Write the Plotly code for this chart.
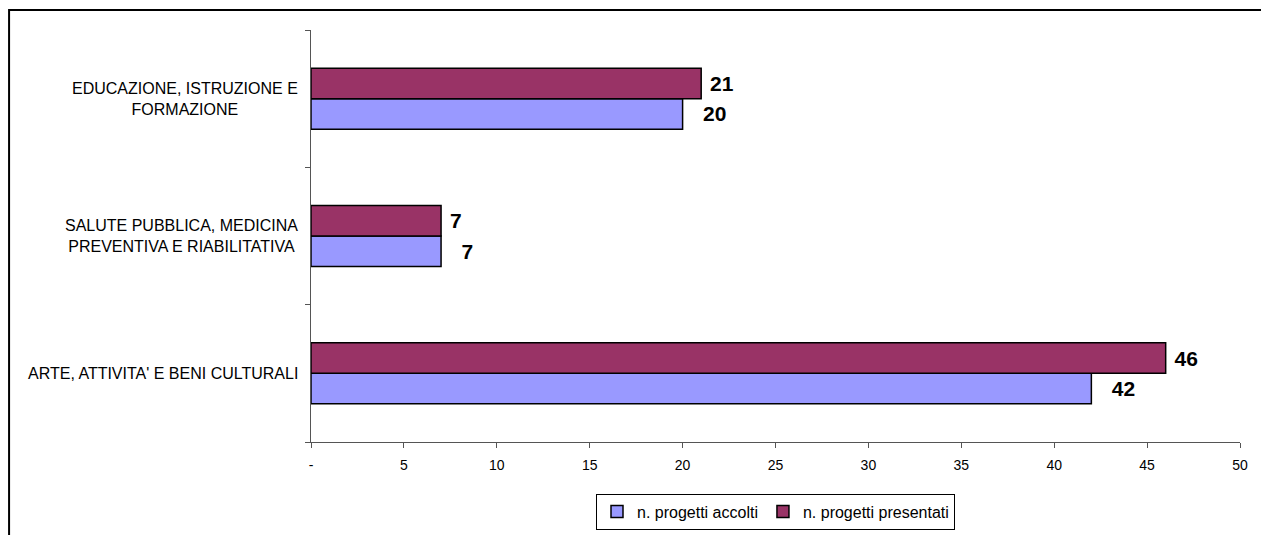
import plotly.graph_objects as go

# categories, bottom to top as in the chart
categories = [
    "ARTE, ATTIVITA' E BENI CULTURALI",
    "SALUTE PUBBLICA, MEDICINA<br>PREVENTIVA E RIABILITATIVA",
    "EDUCAZIONE, ISTRUZIONE E<br>FORMAZIONE",
]
accolti = [42, 7, 20]
presentati = [46, 7, 21]

x_ticks = [0, 5, 10, 15, 20, 25, 30, 35, 40, 45, 50]
x_ticktext = ["-", "5", "10", "15", "20", "25", "30", "35", "40", "45", "50"]

FONT = "Liberation Sans"
NBSP = "\u00a0"

fig = go.Figure()

fig.add_trace(go.Bar(
    y=categories,
    x=accolti,
    orientation="h",
    name="n. progetti accolti",
    marker=dict(color="#9999FF", line=dict(color="black", width=1.5)),
    texttemplate=NBSP * 3 + "%{x}",
    textposition="outside",
    constraintext="none",
    cliponaxis=False,
    textfont=dict(family=FONT, size=21, color="black", weight="bold"),
))
fig.add_trace(go.Bar(
    y=categories,
    x=presentati,
    orientation="h",
    name="n. progetti presentati",
    marker=dict(color="#993366", line=dict(color="black", width=1.5)),
    texttemplate=NBSP + "%{x}",
    textposition="outside",
    constraintext="none",
    cliponaxis=False,
    textfont=dict(family=FONT, size=21, color="black", weight="bold"),
))

# category labels as annotations so multi-line labels are centred
for cat in categories:
    fig.add_annotation(
        x=0, xref="paper", y=cat, yref="y",
        text=cat, showarrow=False,
        xanchor="right", xshift=-11, align="center",
        font=dict(family=FONT, size=16, color="black"),
    )

# outer frame (runs off the right and bottom of the page)
fig.add_shape(
    type="rect", xref="paper", yref="paper",
    x0=-0.325, y0=-0.4, x1=1.2, y1=1.0485,
    line=dict(color="black", width=2),
)

# the page body has an 8px margin, so the figure is 8px smaller than the window
fig.update_layout(
    width=1261, height=527,
    margin=dict(l=303, r=29, t=22, b=93, autoexpand=False),
    paper_bgcolor="white",
    plot_bgcolor="white",
    barmode="group",
    bargap=0.556,
    bargroupgap=0,
    font=dict(family=FONT, color="black"),
    showlegend=True,
    legend=dict(
        orientation="h",
        x=0.5, xanchor="center",
        y=-0.125, yanchor="top",
        bordercolor="black", borderwidth=1,
        font=dict(family=FONT, size=16, color="black"),
        traceorder="normal",
        itemwidth=30,
    ),
    xaxis=dict(
        range=[0, 50],
        tickvals=x_ticks,
        ticktext=x_ticktext,
        ticks="outside", ticklen=5, tickcolor="#555",
        showline=True, linecolor="#555", linewidth=1,
        showgrid=False, zeroline=False,
        tickfont=dict(family=FONT, size=14, color="black"),
        ticklabelstandoff=5,
        automargin=False,
        fixedrange=True,
    ),
    yaxis=dict(
        type="category",
        tickson="boundaries",
        ticks="outside", ticklen=5, tickcolor="#555",
        showline=True, linecolor="#555", linewidth=1,
        showgrid=False, zeroline=False,
        showticklabels=False,
        automargin=False,
        fixedrange=True,
    ),
)

fig.write_html("out.html")
